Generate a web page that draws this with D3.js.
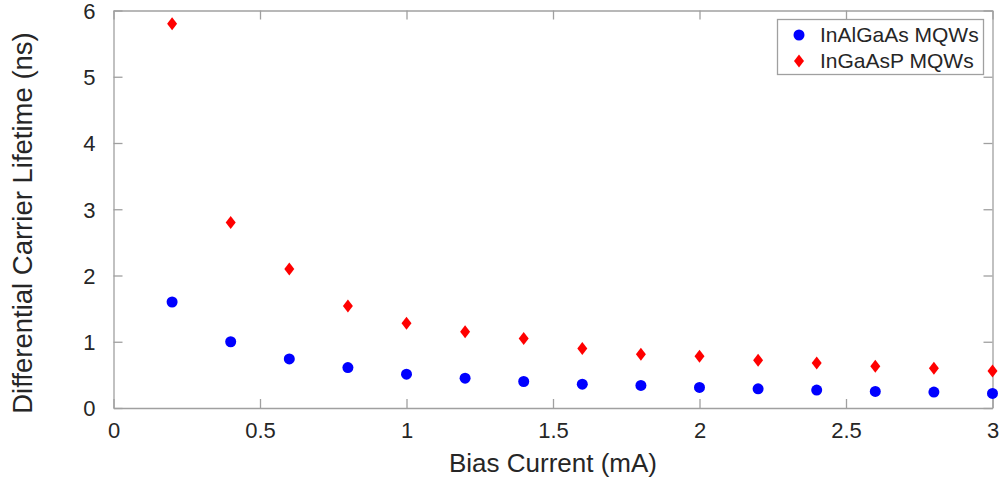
<!DOCTYPE html>
<meta charset="utf-8">
<head>
  <title>Differential Carrier Lifetime vs Bias Current</title>
  <script type="text/javascript" src="https://d3js.org/d3.v7.min.js"></script>
  <style>
    body {margin: 0; background: white;}
    text {font-family: "Liberation Sans", Arial, Helvetica, sans-serif; fill: #262626;}
  </style>
</head>
<body>
  <div id="chart"></div>
  <script>

    // data
    var biasCurrent = [0.2, 0.4, 0.6, 0.8, 1.0, 1.2, 1.4, 1.6, 1.8, 2.0, 2.2, 2.4, 2.6, 2.8, 3.0];
    var inAlGaAs = [1.60, 1.00, 0.74, 0.61, 0.51, 0.45, 0.40, 0.36, 0.34, 0.31, 0.29, 0.27, 0.25, 0.24, 0.22];
    var inGaAsP = [5.80, 2.80, 2.10, 1.54, 1.28, 1.15, 1.05, 0.90, 0.81, 0.78, 0.72, 0.68, 0.63, 0.60, 0.56];
    var xTicks = [0, 0.5, 1, 1.5, 2, 2.5, 3];
    var yTicks = [0, 1, 2, 3, 4, 5, 6];
    var seriesNames = ["InAlGaAs MQWs", "InGaAsP MQWs"];

    var width = 1003, height = 479;
    var margins = {top: 10.5, right: 10.5, bottom: 71, left: 113.5};
    var axisColor = "#a0a0a0";

    var svg = d3.select("#chart").append("svg")
      .attr("width", width)
      .attr("height", height);

    var x = d3.scaleLinear().domain([0, 3]).range([margins.left, width - margins.right]);
    var y = d3.scaleLinear().domain([0, 6]).range([height - margins.bottom, margins.top]);

    // box + ticks on all four sides (ticks point inward)
    var tickLen = 9;
    var bottomAxis = svg.append("g")
      .attr("transform", "translate(0," + y(0) + ")")
      .call(d3.axisBottom(x).tickValues(xTicks).tickSizeInner(-tickLen).tickSizeOuter(0).tickPadding(14).tickFormat(d3.format("")));
    var topAxis = svg.append("g")
      .attr("transform", "translate(0," + y(6) + ")")
      .call(d3.axisTop(x).tickValues(xTicks).tickSizeInner(-tickLen).tickSizeOuter(0).tickFormat(""));
    var leftAxis = svg.append("g")
      .attr("transform", "translate(" + x(0) + ",0)")
      .call(d3.axisLeft(y).tickValues(yTicks).tickSizeInner(-tickLen).tickSizeOuter(0).tickPadding(18).tickFormat(d3.format("")));
    var rightAxis = svg.append("g")
      .attr("transform", "translate(" + x(3) + ",0)")
      .call(d3.axisRight(y).tickValues(yTicks).tickSizeInner(-tickLen).tickSizeOuter(0).tickFormat(""));

    [bottomAxis, topAxis, leftAxis, rightAxis].forEach(function(a){
      a.selectAll("path, line").attr("stroke", axisColor).attr("stroke-width", 1.3);
      a.selectAll("text")
        .attr("fill", "#262626")
        .style("font-family", "'Liberation Sans', Arial, sans-serif")
        .style("font-size", "22px");
    });
    bottomAxis.selectAll("text").attr("dy", "0.71em");
    leftAxis.selectAll("text").attr("dy", "0.36em");

    // axis labels
    svg.append("text")
      .attr("x", x(1.5))
      .attr("y", 472)
      .attr("text-anchor", "middle")
      .style("font-size", "26px")
      .text("Bias Current (mA)");

    svg.append("text")
      .attr("transform", "translate(32,223) rotate(-90)")
      .attr("text-anchor", "middle")
      .style("font-size", "27.5px")
      .text("Differential Carrier Lifetime (ns)");

    // markers
    var diamond = function(cx, cy, w, h) {
      return "M" + cx + "," + (cy - h) + "L" + (cx + w) + "," + cy + "L" + cx + "," + (cy + h) + "L" + (cx - w) + "," + cy + "Z";
    };

    svg.append("g").selectAll("circle")
      .data(biasCurrent)
      .enter()
      .append("circle")
      .attr("cx", function(d){ return x(d); })
      .attr("cy", function(d, i){ return y(inAlGaAs[i]); })
      .attr("r", 5.5)
      .attr("fill", "#0000ff");

    svg.append("g").selectAll("path")
      .data(biasCurrent)
      .enter()
      .append("path")
      .attr("d", function(d, i){ return diamond(x(d), y(inGaAsP[i]), 5, 6.5); })
      .attr("fill", "#ff0000");

    // legend
    var legend = svg.append("g");
    legend.append("rect")
      .attr("x", 777.5).attr("y", 19.5)
      .attr("width", 206).attr("height", 55)
      .attr("fill", "white")
      .attr("stroke", axisColor)
      .attr("stroke-width", 1.3);

    legend.append("circle").attr("cx", 799).attr("cy", 35).attr("r", 5.5).attr("fill", "#0000ff");
    legend.append("path").attr("d", diamond(799, 61, 5, 6.5)).attr("fill", "#ff0000");

    legend.selectAll("text.lbl")
      .data(seriesNames)
      .enter()
      .append("text")
      .attr("class", "lbl")
      .attr("x", 820)
      .attr("y", function(d, i){ return 42 + i * 26; })
      .style("font-size", "21px")
      .text(function(d){ return d; });

  </script>
</body>
</html>
